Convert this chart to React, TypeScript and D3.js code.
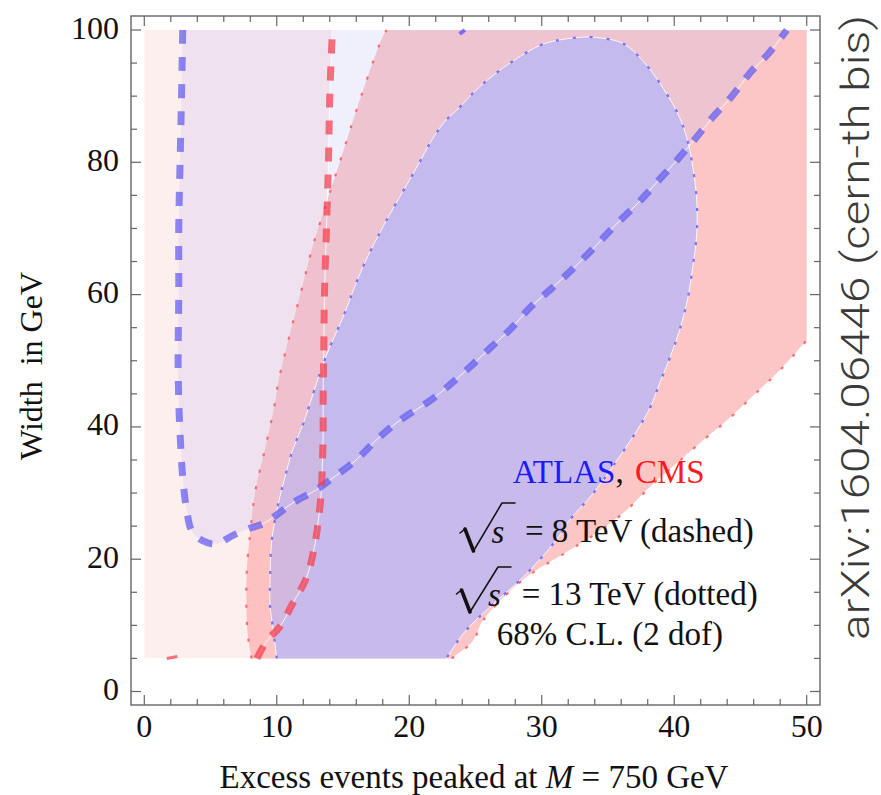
import React from 'react';
import * as d3 from 'd3';

type P = [number, number];

// ---- axis ticks ----
const xMajorTicks = [0, 10, 20, 30, 40, 50];
const xMinorTicks = [2, 4, 6, 8, 12, 14, 16, 18, 22, 24, 26, 28, 32, 34, 36, 38, 42, 44, 46, 48];
const yMajorTicks = [0, 20, 40, 60, 80, 100];
const yMinorTicks = [5, 10, 15, 25, 30, 35, 45, 50, 55, 65, 70, 75, 85, 90, 95];
const xTickLabels = ['0', '10', '20', '30', '40', '50'];
const yTickLabels = ['0', '20', '40', '60', '80', '100'];

// ---- contour data (x = excess events, y = width in GeV) ----
// CMS 8 TeV (dashed), region to the left of the curve
const cms8Dashed: P[] = [
  [8.5, 5], [9.3, 7.8], [10.2, 9.7], [11.2, 13.3], [12.2, 17.0], [12.8, 21.4], [13.1, 25.3],
  [13.35, 30], [13.45, 35], [13.5, 39], [13.5, 44], [13.55, 52], [13.6, 60], [13.75, 70],
  [13.9, 80], [14.0, 90], [14.2, 100],
];
const cms8Stub: P[] = [[1.7, 5.0], [2.5, 5.3]];

// ATLAS 8 TeV (dashed), region above / inside the curve
const atlas8Dashed: P[] = [
  [2.9, 100], [2.8, 89], [2.7, 80], [2.6, 70], [2.6, 60], [2.55, 50], [2.6, 44], [2.7, 39],
  [2.9, 32.4], [3.2, 27.4], [3.6, 24.2], [4.4, 22.8], [5.4, 22.3], [6.7, 23.6], [8, 24.7],
  [9, 25.4], [10.2, 27], [11.2, 28.5], [13, 30.5], [14.3, 32.4], [16, 35], [17.5, 38],
  [19.3, 41], [21.6, 44], [22.9, 46.1], [24.6, 49.1], [26.2, 52.1], [27.7, 54.9], [29.2, 58.2],
  [30.9, 61.2], [32.5, 64.2], [34.0, 67.2], [35.5, 70.4], [37.2, 73.7], [38.7, 77.0],
  [40.2, 80.3], [41.6, 83.6], [42.9, 86.8], [44.4, 90.1], [45.8, 93.7], [47.1, 96.4], [48.5, 100],
];

// CMS 13 TeV (dotted), band between left and right curves
const cms13Left: P[] = [
  [8.1, 5], [7.8, 8.8], [7.7, 13.8], [7.75, 18.8], [8.0, 24], [8.4, 30.5], [9.1, 36.5],
  [9.9, 44], [10.1, 46.6], [11, 54.1], [11.8, 60.2], [12.7, 67.2], [13.5, 72.3], [14.8, 80.3],
  [16.1, 88.4], [18, 99], [18.3, 100],
];
const cms13Right: P[] = [
  [23.2, 5], [24.8, 7.6], [25.6, 10.8], [28.6, 16.9], [31.9, 21.1], [34.1, 23.9], [36.4, 27.4],
  [38.2, 31], [40.2, 34.5], [42.2, 38], [44, 41], [46, 44.8], [48, 48.6], [50, 53.1],
];

// ATLAS 13 TeV (dotted), closed region
const atlas13Dotted: P[] = [
  [10, 5], [9.7, 9.8], [9.5, 12.8], [9.5, 17.3], [9.6, 22.4], [10, 27.4], [10.5, 31.5],
  [11.2, 36.5], [12, 40.5], [13, 46.6], [13.8, 51.1], [15, 56.6], [16.5, 64.2], [18.3, 71.3],
  [20.3, 78.3], [21.9, 84], [22.7, 86.2], [23.6, 87.9], [25.3, 91.4], [27.6, 95], [29.9, 97.7],
  [31.1, 98.4], [32.9, 98.9], [33.9, 98.9], [36.1, 98], [37.6, 95.4], [39.1, 91.4], [40.4, 86.8],
  [41, 83.3], [41.4, 79.3], [41.7, 74.3], [41.7, 69.2], [41.4, 64.2], [41, 59.2], [40.4, 54.6],
  [39.7, 50.6], [38.9, 46.6], [38.2, 43], [37.2, 39.5], [35.7, 35], [33.9, 30], [32.1, 25.9],
  [31.1, 22.9], [28.6, 17.3], [26.1, 12.8], [24.1, 8.8], [22.8, 5],
];
const atlas13Stub: P[] = [[23.8, 99.4], [24.2, 100]];

const W = 881;
const H = 795;
const frame = { left: 131, right: 820, top: 16, bottom: 705 };

const x = d3.scaleLinear().domain([0, 50]).range([144.3, 806.7]);
const y = d3.scaleLinear().domain([0, 100]).range([691.5, 30]);

const line = d3
  .line<P>()
  .x((d) => x(d[0]))
  .y((d) => y(d[1]));

const smooth = d3
  .line<P>()
  .x((d) => x(d[0]))
  .y((d) => y(d[1]))
  .curve(d3.curveCatmullRom.alpha(0.5));

const sm = (pts: P[]) => smooth(pts) || '';
const join = (pts: P[]) => sm(pts).replace(/^M/, 'L');
const pt = (p: P) => `L${x(p[0])},${y(p[1])}`;

// region outlines: smooth contour parts joined by straight plot-border edges
const cms8RegionPath = sm(cms8Dashed) + pt([0, 100]) + pt([0, 5]) + 'Z';
const atlas8RegionPath = sm(atlas8Dashed) + 'Z';
const cms13RegionPath = sm(cms13Left) + pt([50, 100]) + join(cms13Right.slice().reverse()) + 'Z';
const atlas13RegionPath = sm(atlas13Dotted) + 'Z';
const plotAreaPath = `M${x(0)},${y(5)}` + pt([50, 5]) + pt([50, 100]) + pt([0, 100]) + 'Z';

const serif = '"Liberation Serif", "Times New Roman", serif';

function Radical({ x0, yBar, xBottom, yBottom, xTop, xEnd }: { x0: number; yBar: number; xBottom: number; yBottom: number; xTop: number; xEnd: number }) {
  return (
    <g stroke="#111" fill="none" strokeLinecap="round" strokeLinejoin="round">
      <path d={`M${x0},${yBottom - 18} L${x0 + 5},${yBottom - 22}`} strokeWidth={1.6} />
      <path d={`M${x0 + 5},${yBottom - 22} L${xBottom},${yBottom}`} strokeWidth={3.6} />
      <path d={`M${xBottom},${yBottom} L${xTop},${yBar} L${xEnd},${yBar}`} strokeWidth={1.5} />
    </g>
  );
}

export default function App() {
  const blueDash = 'rgba(95,90,240,0.72)';
  const redDash = 'rgba(245,60,75,0.72)';
  const blueDot = 'rgba(100,95,245,0.85)';
  const redDot = 'rgba(245,90,95,0.85)';
  const atlas8White = atlas8Dashed.filter((d) => (d[0] >= 7.5 && d[1] < 60) || d[0] > 20);

  return (
    <svg
      width={W}
      height={H}
      style={{ position: 'absolute', left: 0, top: 0, background: '#fff' }}
    >
      <defs>
        <clipPath id="inCms13">
          <path d={cms13RegionPath} />
        </clipPath>
        <clipPath id="outCms13">
          <path d={plotAreaPath + cms13RegionPath} clipRule="evenodd" />
        </clipPath>
      </defs>

      {/* filled regions */}
      <path d={cms13RegionPath} fill="rgb(250,100,100)" fillOpacity={0.37} />
      <path d={atlas13RegionPath} fill="rgb(172,179,254)" fillOpacity={0.65} />
      <path d={cms8RegionPath} fill="rgb(245,110,110)" fillOpacity={0.11} clipPath="url(#outCms13)" />
      <path d={cms8RegionPath} fill="rgb(255,170,170)" fillOpacity={0.18} clipPath="url(#inCms13)" />
      <path d={atlas8RegionPath} fill="rgb(110,110,240)" fillOpacity={0.1} clipPath="url(#outCms13)" />
      <path d={atlas8RegionPath} fill="rgb(185,188,255)" fillOpacity={0.2} clipPath="url(#inCms13)" />

      {/* thin white boundary lines */}
      <g fill="none" stroke="#fff" strokeWidth={1} strokeOpacity={0.85}>
        <path d={sm(cms8Dashed)} />
        <path d={sm(atlas8White)} />
        <path d={sm(atlas13Dotted)} />
        <path d={sm(cms13Right)} strokeOpacity={0.5} />
      </g>

      {/* dotted 13 TeV boundaries */}
      <g fill="none" strokeWidth={2.2} strokeDasharray="3 14">
        <path d={sm(cms13Left)} stroke={redDot} />
        <path d={sm(cms13Right)} stroke={redDot} />
        <path d={sm(atlas13Dotted)} stroke={blueDot} />
        <path d={line(atlas13Stub) || ''} stroke={blueDot} strokeWidth={4} strokeDasharray="none" />
      </g>

      {/* dashed 8 TeV boundaries */}
      <g fill="none" strokeWidth={7} strokeDasharray="14 13">
        <path d={sm(atlas8Dashed)} stroke={blueDash} />
        <path d={sm(cms8Dashed)} stroke={redDash} />
        <path d={line(cms8Stub) || ''} stroke={redDash} strokeWidth={3} strokeDasharray="none" />
      </g>

      {/* frame */}
      <rect
        x={frame.left}
        y={frame.top}
        width={frame.right - frame.left}
        height={frame.bottom - frame.top}
        fill="none"
        stroke="#666"
        strokeWidth={1.4}
      />
      <g stroke="#666" strokeWidth={1.2}>
        {xMajorTicks.map((t) => (
          <g key={'xM' + t}>
            <line x1={x(t)} x2={x(t)} y1={frame.bottom} y2={frame.bottom - 10} />
            <line x1={x(t)} x2={x(t)} y1={frame.top} y2={frame.top + 10} />
          </g>
        ))}
        {xMinorTicks.map((t) => (
          <g key={'xm' + t}>
            <line x1={x(t)} x2={x(t)} y1={frame.bottom} y2={frame.bottom - 6} />
            <line x1={x(t)} x2={x(t)} y1={frame.top} y2={frame.top + 6} />
          </g>
        ))}
        {yMajorTicks.map((t) => (
          <g key={'yM' + t}>
            <line x1={frame.left} x2={frame.left + 10} y1={y(t)} y2={y(t)} />
            <line x1={frame.right} x2={frame.right - 10} y1={y(t)} y2={y(t)} />
          </g>
        ))}
        {yMinorTicks.map((t) => (
          <g key={'ym' + t}>
            <line x1={frame.left} x2={frame.left + 6} y1={y(t)} y2={y(t)} />
            <line x1={frame.right} x2={frame.right - 6} y1={y(t)} y2={y(t)} />
          </g>
        ))}
      </g>

      {/* tick labels */}
      <g fontFamily={serif} fontSize={32} fill="#111">
        {xMajorTicks.map((t, i) => (
          <text key={'xl' + t} x={x(t)} y={737} textAnchor="middle">
            {xTickLabels[i]}
          </text>
        ))}
        {yMajorTicks.map((t, i) => (
          <text key={'yl' + t} x={119} y={y(t) + 8.5} textAnchor="end">
            {yTickLabels[i]}
          </text>
        ))}
      </g>

      {/* axis titles */}
      <text x={474} y={788} textAnchor="middle" fontFamily={serif} fontSize={33} fill="#111">
        Excess events peaked at <tspan fontStyle="italic">M</tspan> = 750 GeV
      </text>
      <text
        transform="translate(42,366) rotate(-90)"
        textAnchor="middle"
        fontFamily={serif}
        fontSize={32}
        fill="#111"
        style={{ whiteSpace: 'pre' }}
      >
        {'Width  in GeV'}
      </text>
      <text
        transform="translate(869,327.5) rotate(-90)"
        textAnchor="middle"
        fontFamily='Roboto, "Liberation Sans", sans-serif'
        fontWeight={300}
        fontSize={38}
        textLength={625}
        lengthAdjust="spacingAndGlyphs"
        fill="#3a3a3a"
      >
        arXiv:1604.06446 (cern-th bis)
      </text>

      {/* legend */}
      <Radical x0={460} yBar={503} xBottom={473.5} yBottom={551} xTop={502} xEnd={515} />
      <Radical x0={456.5} yBar={567} xBottom={470} yBottom={612} xTop={498} xEnd={511} />
      <g fontFamily={serif} fontSize={33}>
        <text x={512.7} y={483}>
          <tspan fill="#1a1aff">ATLAS</tspan>
          <tspan fill="#111">,</tspan>
        </text>
        <text x={635} y={483} fill="#ff1a1a">CMS</text>
        <text x={491.5} y={543} fontStyle="italic" fill="#111">s</text>
        <text x={525} y={542} fill="#111">= 8 TeV (dashed)</text>
        <text x={488} y={606} fontStyle="italic" fill="#111">s</text>
        <text x={521.7} y={605} fill="#111">= 13 TeV (dotted)</text>
        <text x={496.7} y={645} fill="#111">68% C.L. (2 dof)</text>
      </g>
    </svg>
  );
}
